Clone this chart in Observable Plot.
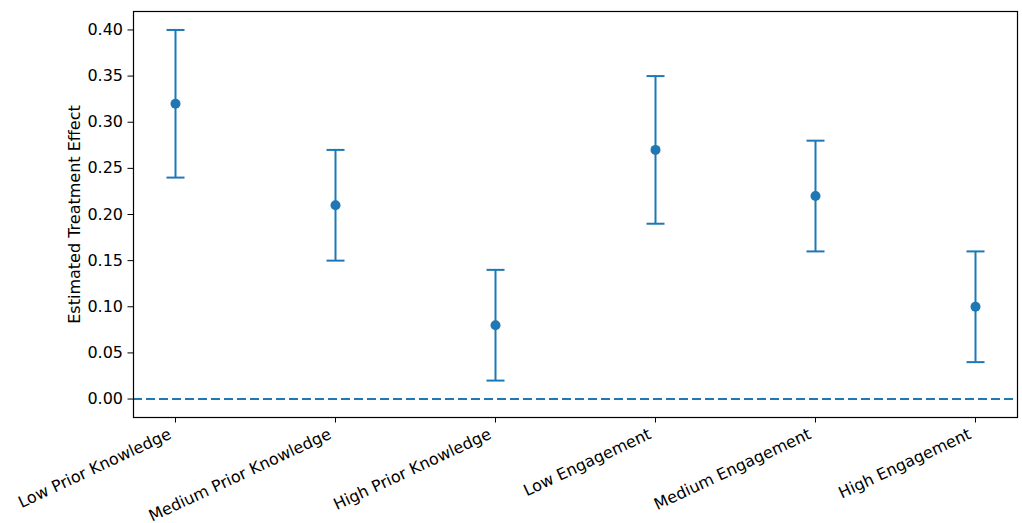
<!DOCTYPE html>
<html>
<head>
<meta charset="utf-8">
<script src="https://cdn.jsdelivr.net/npm/d3@7"></script>
<script src="https://cdn.jsdelivr.net/npm/@observablehq/plot@0.6"></script>
<style>
  html, body { margin: 0; padding: 0; background: #fff; }
  #chart svg { display: block; overflow: visible; }
</style>
</head>
<body>
<div id="chart"></div>
<script>
const categories = ["Low Prior Knowledge", "Medium Prior Knowledge", "High Prior Knowledge", "Low Engagement", "Medium Engagement", "High Engagement"];
const estimates = [0.32, 0.21, 0.08, 0.27, 0.22, 0.10];
const lower = [0.24, 0.15, 0.02, 0.19, 0.16, 0.04];
const upper = [0.40, 0.27, 0.14, 0.35, 0.28, 0.16];
const yTicks = [0, 0.05, 0.10, 0.15, 0.20, 0.25, 0.30, 0.35, 0.40];
const yLabel = "Estimated Treatment Effect";

const data = categories.map((c, i) => ({cat: c, est: estimates[i], lo: lower[i], hi: upper[i]}));
const blue = "#1f77b4";

// horizontal cap symbol: half-width equals the dot radius
const capSymbol = {
  draw(context, size) {
    const w = Math.sqrt(size / Math.PI);
    context.moveTo(-w, 0);
    context.lineTo(w, 0);
  }
};

const chart = Plot.plot({
  width: 1022,
  height: 523,
  marginLeft: 133,
  marginRight: 5,
  marginTop: 11,
  marginBottom: 106,
  style: {fontFamily: "DejaVu Sans", fontSize: "16px", color: "#000", background: "#fff"},
  x: {type: "point", domain: categories, padding: 0.25, label: null},
  y: {domain: [-0.02, 0.42], label: null},
  marks: [
    Plot.ruleY([0], {stroke: blue, strokeWidth: 2, strokeDasharray: "9,4"}),
    Plot.ruleX(data, {x: "cat", y1: "lo", y2: "hi", stroke: blue, strokeWidth: 2}),
    Plot.dot(data, {x: "cat", y: "lo", symbol: capSymbol, r: 9, fill: "none", stroke: blue, strokeWidth: 2}),
    Plot.dot(data, {x: "cat", y: "hi", symbol: capSymbol, r: 9, fill: "none", stroke: blue, strokeWidth: 2}),
    Plot.dot(data, {x: "cat", y: "est", r: 5, fill: blue, stroke: null}),
    Plot.frame({stroke: "#000", strokeWidth: 1.2}),
    Plot.axisY({ticks: yTicks, tickFormat: d3.format(".2f"), tickSize: 5.5, tickPadding: 5, label: null, fontSize: 16}),
    Plot.axisX({tickSize: 5.5, tickFormat: () => "", label: null}),
    Plot.text(categories, {x: d => d, frameAnchor: "bottom", textAnchor: "end", lineAnchor: "top", rotate: -25, dx: -8, dy: 10, fontSize: 16, fill: "#000"}),
    Plot.text([yLabel], {frameAnchor: "left", textAnchor: "middle", dx: -59, rotate: -90, fontSize: 16, fill: "#000"})
  ]
});
document.getElementById("chart").appendChild(chart);
</script>
</body>
</html>
